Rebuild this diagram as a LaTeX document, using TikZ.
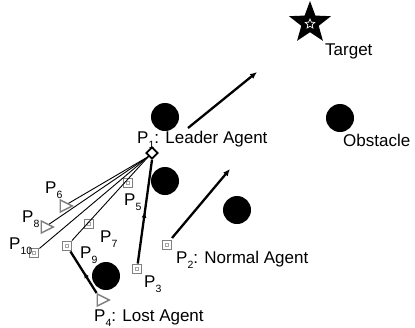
\documentclass[tikz,border=0pt]{standalone}
\usepackage{fontspec}
\setmainfont{Liberation Sans}
\usetikzlibrary{shapes.geometric,arrows.meta,decorations.markings}
\newcommand{\sbx}[1]{\raisebox{-0.3em}{\fontsize{10.5}{10}\selectfont#1}}
\tikzset{
  obst/.style={circle, fill=black, minimum size=28pt, inner sep=0pt},
  sqag/.style={rectangle, draw=gray, line width=1.4pt, minimum size=9.5pt, inner sep=0pt, fill=white,
    path picture={\draw[gray!70,line width=0.7pt] ([shift={(-1.5pt,-1.5pt)}]path picture bounding box.center) rectangle ([shift={(1.5pt,1.5pt)}]path picture bounding box.center);}},
  triag/.style={isosceles triangle, isosceles triangle stretches, draw=gray, line width=1.4pt, fill=white,
    minimum width=12pt, minimum height=12pt, inner sep=0pt},
  leader/.style={diamond, draw=black, line width=1.7pt, fill=white, minimum width=12pt, minimum height=12pt, inner sep=0pt},
  lbl/.style={anchor=base west, inner sep=0pt, font=\fontsize{17}{19}\selectfont},
  thinln/.style={line width=0.9pt, black},
  thickarr/.style={line width=2.3pt, -{Latex[length=7pt,width=6pt]}},
  midarrow/.style={line width=2.3pt, postaction={decorate},
    decoration={markings, mark=at position 0.5 with {\arrow{Latex[length=6pt,width=5pt]}}}}
}
\begin{document}
\begin{tikzpicture}[x=1pt,y=-1pt]
\useasboundingbox (0,0) rectangle (415,327);
% obstacles
\node[obst] (o1) at (165,117) {};
\node[obst] (o2) at (165,181) {};
\node[obst] (o3) at (237,210) {};
\node[obst] (o4) at (340,118) {};
\node[obst] (o5) at (106,276) {};
% target
\node[star, star points=5, star point ratio=2.4, fill=black, minimum size=44pt, inner sep=0pt] (tg) at (310,23) {};
\node[star, star points=5, star point ratio=2.2, draw=white, line width=0.7pt, minimum size=10pt, inner sep=0pt] (tgi) at (310,24) {};
% agents
\node[sqag] (p2) at (167,245) {};
\node[sqag] (p3) at (137,269) {};
\node[sqag] (p5) at (128,183) {};
\node[sqag] (p7) at (89,224) {};
\node[sqag] (p9) at (67,246) {};
\node[sqag] (p10) at (34,253) {};
\node[triag] (p4) at (101,300) {};
\node[triag] (p6) at (64,206) {};
\node[triag] (p8) at (45,227) {};
\node[leader] (p1) at (152,153) {};
% connectors
\draw[thinln] (p1.south west) -- (p6);
\draw[thinln] (p1.south west) -- (p8);
\draw[thinln] (p1.south west) -- (p10);
\draw[thinln] (p1.south west) -- (p9);
\draw[midarrow] (p3) -- (p1.south);
\draw[midarrow] (p4) -- (p9);
\coordinate (a1s) at (188,128);
\coordinate (a1e) at (257,72);
\coordinate (a2s) at (172,238);
\coordinate (a2e) at (230,169);
\draw[thickarr] (a1s) -- (a1e);
\draw[thickarr] (a2s) -- (a2e);
% labels
\node[lbl] (t1) at (325,55) {Target};
\node[lbl] (t2) at (343,146) {Obstacle};
\node[lbl] (l1) at (137,143) {P\sbx{1}: Leader Agent};
\node[lbl] (l2) at (176,263) {P\sbx{2}: Normal Agent};
\node[lbl] (l4) at (94,321) {P\sbx{4}: Lost Agent};
\node[lbl] (l3) at (144,287) {P\sbx{3}};
\node[lbl] (l5) at (124,205) {P\sbx{5}};
\node[lbl] (l6) at (45,193) {P\sbx{6}};
\node[lbl] (l7) at (100,242) {P\sbx{7}};
\node[lbl] (l8) at (22,222) {P\sbx{8}};
\node[lbl] (l9) at (80,258) {P\sbx{9}};
\node[lbl] (l10) at (9,249) {P\sbx{10}};
\end{tikzpicture}
\end{document}
